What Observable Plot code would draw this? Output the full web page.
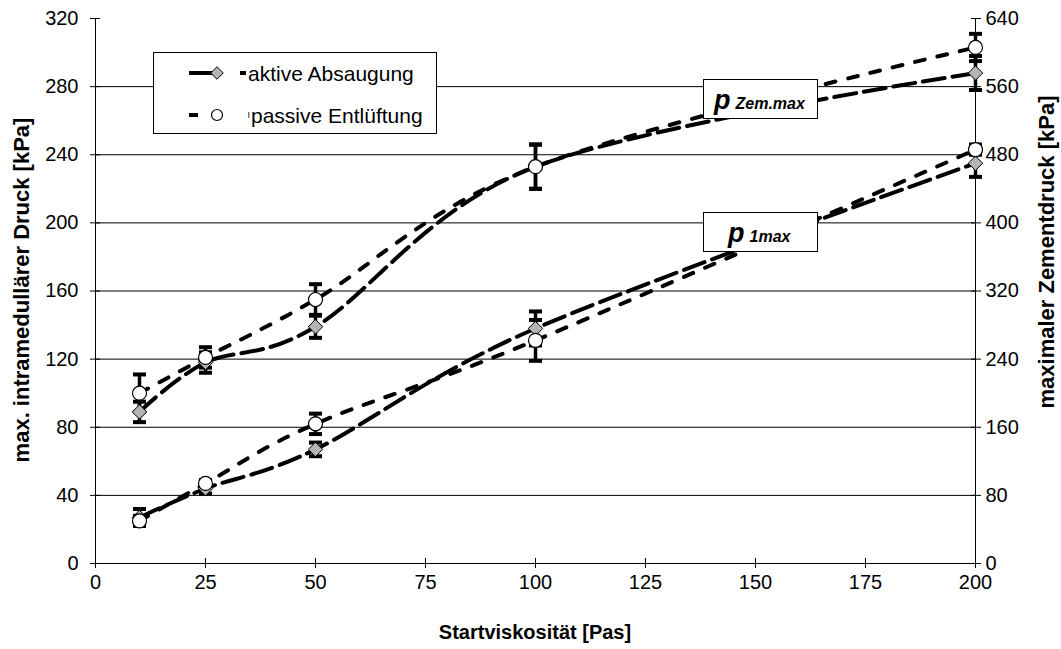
<!DOCTYPE html>
<html>
<head>
<meta charset="utf-8">
<script src="https://cdn.jsdelivr.net/npm/d3@7"></script>
<script src="https://cdn.jsdelivr.net/npm/@observablehq/plot@0.6"></script>
<style>
  body { margin: 0; background: #fff; }
  #wrap { position: relative; width: 1061px; height: 649px; font-family: "Liberation Sans", Arial, sans-serif; color: #000; }
  #wrap svg { position: absolute; left: 0; top: 0; }
  .title { position: absolute; font-weight: bold; white-space: nowrap; line-height: 1; }
  .box { position: absolute; background: #fff; border: 1px solid #000; box-sizing: border-box; }
  .plabel { position: absolute; font-weight: bold; font-style: italic; white-space: nowrap; line-height: 1; }
  .plabel .p { font-size: 27px; }
  .plabel .sub { font-size: 16px; margin-left: 5px; }
  .legtext { position: absolute; font-size: 21px; white-space: nowrap; line-height: 1; }
</style>
</head>
<body>
<div id="wrap"></div>
<script>
// Startviskosität [Pas]
const viskositaet = [10, 25, 50, 100, 200];

// max. intramedullärer Druck p1max [kPa] (left axis)
const p1Aktiv = [27, 44, 67, 138, 235];
const p1AktivErr = [5, 3, 4, 10, 8];
const p1Passiv = [25, 47, 82, 131, 243];
const p1PassivErr = [3, 2, 6, 12, 3];

// maximaler Zementdruck pZem.max [kPa] (right axis)
const pZemAktiv = [178, 236, 278, 466, 576];
const pZemAktivErr = [12, 12, 13, 26, 20];
const pZemPassiv = [200, 242, 310, 466, 606];
const pZemPassivErr = [22, 12, 18, 26, 16];

// axis ticks
const xTicks = [0, 25, 50, 75, 100, 125, 150, 175, 200];
const yTicksLeft = [0, 40, 80, 120, 160, 200, 240, 280, 320];
const yTicksRight = [0, 80, 160, 240, 320, 400, 480, 560, 640];

const seriesNames = ["aktive Absaugung", "passive Entlüftung"];

// right axis values are mapped onto the left scale
const RATIO = yTicksRight[yTicksRight.length - 1] / yTicksLeft[yTicksLeft.length - 1];

const rows = [];
function addSeries(values, errs, series, group, k) {
  values.forEach((v, i) => rows.push({x: viskositaet[i], y: v / k, err: errs[i] / k, series, group}));
}
addSeries(p1Aktiv, p1AktivErr, "aktiv", "p1", 1);
addSeries(pZemAktiv, pZemAktivErr, "aktiv", "zem", RATIO);
addSeries(p1Passiv, p1PassivErr, "passiv", "p1", 1);
addSeries(pZemPassiv, pZemPassivErr, "passiv", "zem", RATIO);
const aktiv = rows.filter(d => d.series === "aktiv");
const passiv = rows.filter(d => d.series === "passiv");

// flat bar used as error-bar cap
const capSymbol = {
  draw(ctx) {
    ctx.moveTo(-6.5, -2); ctx.lineTo(6.5, -2); ctx.lineTo(6.5, 2); ctx.lineTo(-6.5, 2); ctx.closePath();
  }
};

const font = "'Liberation Sans', Arial, sans-serif";
const dashAktiv = "22,8";
const dashPassiv = "10,13";

const chart = Plot.plot({
  width: 1061,
  height: 649,
  marginLeft: 95,
  marginRight: 86,
  marginTop: 18,
  marginBottom: 86,
  x: {domain: [0, 200], label: null},
  y: {domain: [0, 320], label: null},
  style: {fontFamily: font, fontSize: "20px", background: "transparent", color: "#000"},
  marks: [
    // horizontal gridlines
    Plot.ruleY(yTicksLeft.filter(d => d > 0 && d < 320), {stroke: "#000", strokeWidth: 1}),
    // axis lines
    Plot.ruleX([0, 200], {stroke: "#000", strokeWidth: 1}),
    Plot.ruleY([0], {stroke: "#000", strokeWidth: 1}),
    // crossing tick marks
    Plot.axisX({ticks: xTicks, tickSize: 10, insetBottom: 5, fill: "none", label: null}),
    Plot.axisY({ticks: yTicksLeft, tickSize: 10, insetLeft: 5, fill: "none", label: null}),
    Plot.axisY({anchor: "right", ticks: yTicksLeft, tickSize: 10, insetRight: 5, fill: "none", label: null}),
    // tick labels
    Plot.axisX({ticks: xTicks, tickSize: 0, tickPadding: 11, label: null}),
    Plot.axisY({ticks: yTicksLeft, tickSize: 0, tickPadding: 17, label: null}),
    Plot.axisY({anchor: "right", ticks: yTicksLeft, tickSize: 0, tickPadding: 10, label: null,
      tickFormat: d => yTicksRight[yTicksLeft.indexOf(d)]}),
    // smoothed connecting lines
    Plot.line(aktiv, {x: "x", y: "y", z: "group", curve: "cardinal", tension: 0,
      stroke: "#000", strokeWidth: 4, strokeDasharray: dashAktiv}),
    Plot.line(passiv, {x: "x", y: "y", z: "group", curve: "cardinal", tension: 0,
      stroke: "#000", strokeWidth: 4, strokeDasharray: dashPassiv}),
    // error bars
    Plot.ruleX(rows, {x: "x", y1: d => d.y - d.err, y2: d => d.y + d.err, stroke: "#000", strokeWidth: 3.5}),
    Plot.dot(rows, {x: "x", y: d => d.y + d.err, symbol: capSymbol, fill: "#000", stroke: "none", r: 5}),
    Plot.dot(rows, {x: "x", y: d => d.y - d.err, symbol: capSymbol, fill: "#000", stroke: "none", r: 5}),
    // markers
    Plot.dot(aktiv, {x: "x", y: "y", symbol: "diamond2", r: 6.5, fill: "#b4b4b4", stroke: "#000", strokeWidth: 1}),
    Plot.dot(passiv, {x: "x", y: "y", r: 7, fill: "#fff", stroke: "#000", strokeWidth: 1.2})
  ]
});

const wrap = document.getElementById("wrap");
wrap.appendChild(chart);

// axis titles
function addTitle(text, size, css, transform) {
  const div = document.createElement("div");
  div.className = "title";
  div.textContent = text;
  div.style.fontSize = size + "px";
  Object.assign(div.style, css);
  div.style.transform = transform;
  wrap.appendChild(div);
}
addTitle("Startviskosität [Pas]", 20, {left: "535px", top: "632px"}, "translate(-50%,-50%)");
addTitle("max. intramedullärer Druck [kPa]", 22, {left: "22px", top: "290px"}, "translate(-50%,-50%) rotate(-90deg)");
addTitle("maximaler Zementdruck [kPa]", 22, {left: "1047px", top: "252px"}, "translate(-50%,-50%) rotate(-90deg)");

// curve labels
function addPLabel(sub, left, top, padLeft) {
  const box = document.createElement("div");
  box.className = "box";
  Object.assign(box.style, {left: left + "px", top: top + "px", width: "115px", height: "40px"});
  const lab = document.createElement("div");
  lab.className = "plabel";
  Object.assign(lab.style, {left: padLeft + "px", top: "7px"});
  lab.innerHTML = `<span class="p">p</span><span class="sub">${sub}</span>`;
  box.appendChild(lab);
  wrap.appendChild(box);
}
addPLabel("Zem.max", 703, 79, 10);
addPLabel("1max", 703, 212, 24);

// legend
const legend = document.createElement("div");
legend.className = "box";
Object.assign(legend.style, {left: "153px", top: "52px", width: "284px", height: "82px"});
wrap.appendChild(legend);
const lsvg = d3.select(legend).append("svg").attr("width", 284).attr("height", 82)
  .style("position", "absolute").style("left", "-1px").style("top", "-1px");
const rowsY = [21, 63];
seriesNames.forEach((name, i) => {
  const y = rowsY[i];
  if (i === 0) {
    lsvg.append("line").attr("x1", 36).attr("x2", 62).attr("y1", y).attr("y2", y)
      .attr("stroke", "#000").attr("stroke-width", 4);
    lsvg.append("rect").attr("x", 87).attr("y", y - 2).attr("width", 6).attr("height", 4).attr("fill", "#000");
    lsvg.append("path").attr("d", d3.symbol(d3.symbolDiamond2, 100)())
      .attr("transform", `translate(64,${y})`).attr("fill", "#b4b4b4").attr("stroke", "#000");
  } else {
    lsvg.append("line").attr("x1", 36).attr("x2", 45).attr("y1", y).attr("y2", y)
      .attr("stroke", "#000").attr("stroke-width", 4);
    lsvg.append("rect").attr("x", 95).attr("y", y - 3).attr("width", 1.5).attr("height", 6).attr("fill", "#777");
    lsvg.append("circle").attr("cx", 64).attr("cy", y).attr("r", 5.5)
      .attr("fill", "#fff").attr("stroke", "#000").attr("stroke-width", 1.2);
  }
  const t = document.createElement("div");
  t.className = "legtext";
  t.textContent = name;
  Object.assign(t.style, {left: (i === 0 ? 94 : 97) + "px", top: (y - 11) + "px"});
  legend.appendChild(t);
});
</script>
</body>
</html>
